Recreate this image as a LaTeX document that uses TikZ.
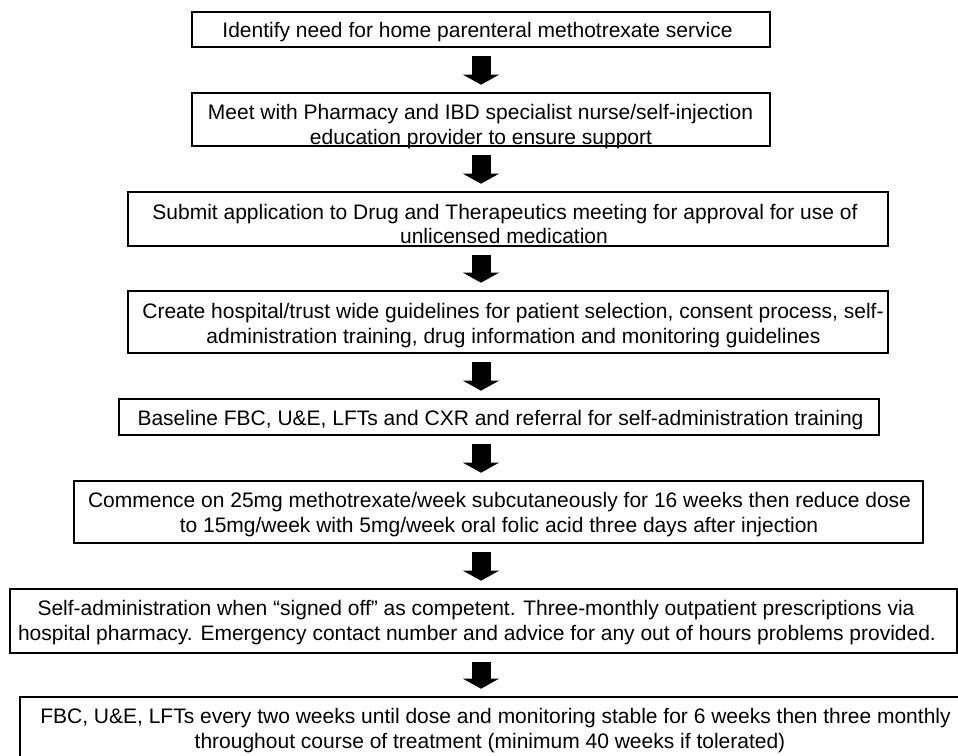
\documentclass[tikz,border=0pt]{standalone}
\usepackage{fontspec}
\setmainfont{Liberation Sans}
\usetikzlibrary{arrows.meta}
\begin{document}
\begin{tikzpicture}[x=1pt,y=-1pt,
  stepbox/.style={draw=black, line width=2.6pt, inner sep=0pt},
  linetext/.style={anchor=base, inner sep=0pt, font=\fontsize{21}{25}\selectfont, text=black},
  flowarrow/.style={line width=19pt, -{Triangle[width=36pt,length=10pt,line width=0pt]}, shorten <=8pt, shorten >=7pt}]
\path[use as bounding box, fill=white] (0,0) rectangle (958,755);
\clip (0,0) rectangle (958,755);
% boxes
\node[stepbox, minimum width=578pt, minimum height=35pt] (b1) at (481,29.5) {};
\node[stepbox, minimum width=578pt, minimum height=53pt] (b2) at (481,119.5) {};
\node[stepbox, minimum width=760pt, minimum height=54pt] (b3) at (508,219) {};
\node[stepbox, minimum width=760pt, minimum height=62pt] (b4) at (508,322) {};
\node[stepbox, minimum width=760pt, minimum height=36pt] (b5) at (499,417) {};
\node[stepbox, minimum width=849pt, minimum height=62pt] (b6) at (498.5,512) {};
\node[stepbox, minimum width=947pt, minimum height=64pt] (b7) at (483.5,621) {};
\node[stepbox, minimum width=945pt, minimum height=68pt] (b8) at (492.5,731) {};
% texts
\node[linetext] (t1) at (477.5,37.5) {Identify need for home parenteral methotrexate service};
\node[linetext] (t2a) at (480.5,119) {Meet with Pharmacy and IBD specialist nurse/self-injection};
\node[linetext] (t2b) at (481,144) {education provider to ensure support};
\node[linetext] (t3a) at (505,219) {Submit application to Drug and Therapeutics meeting for approval for use of};
\node[linetext] (t3b) at (504,243) {unlicensed medication};
\node[linetext] (t4a) at (513,318) {Create hospital/trust wide guidelines for patient selection, consent process, self-};
\node[linetext] (t4b) at (513.5,343) {administration training, drug information and monitoring guidelines};
\node[linetext] (t5) at (500.5,425) {Baseline FBC, U\&E, LFTs and CXR and referral for self-administration training};
\node[linetext] (t6a) at (499.5,507) {Commence on 25mg methotrexate/week subcutaneously for 16 weeks then reduce dose};
\node[linetext] (t6b) at (499,532) {to 15mg/week with 5mg/week oral folic acid three days after injection};
\node[linetext] (t7a) at (476,615) {Self-administration when “signed off” as competent. Three-monthly outpatient prescriptions via};
\node[linetext] (t7b) at (477,640) {hospital pharmacy. Emergency contact number and advice for any out of hours problems provided.};
\node[linetext] (t8a) at (495.5,723) {FBC, U\&E, LFTs every two weeks until dose and monitoring stable for 6 weeks then three monthly};
\node[linetext] (t8b) at (490,748) {throughout course of treatment (minimum 40 weeks if tolerated)};
% arrows
\coordinate (ax) at (481,0);
\draw[flowarrow] (b1.south -| ax) -- (b2.north -| ax);
\draw[flowarrow] (b2.south -| ax) -- (b3.north -| ax);
\draw[flowarrow] (b3.south -| ax) -- (b4.north -| ax);
\draw[flowarrow] (b4.south -| ax) -- (b5.north -| ax);
\draw[flowarrow] (b5.south -| ax) -- (b6.north -| ax);
\draw[flowarrow] (b6.south -| ax) -- (b7.north -| ax);
\draw[flowarrow] (b7.south -| ax) -- (b8.north -| ax);
\end{tikzpicture}
\end{document}
